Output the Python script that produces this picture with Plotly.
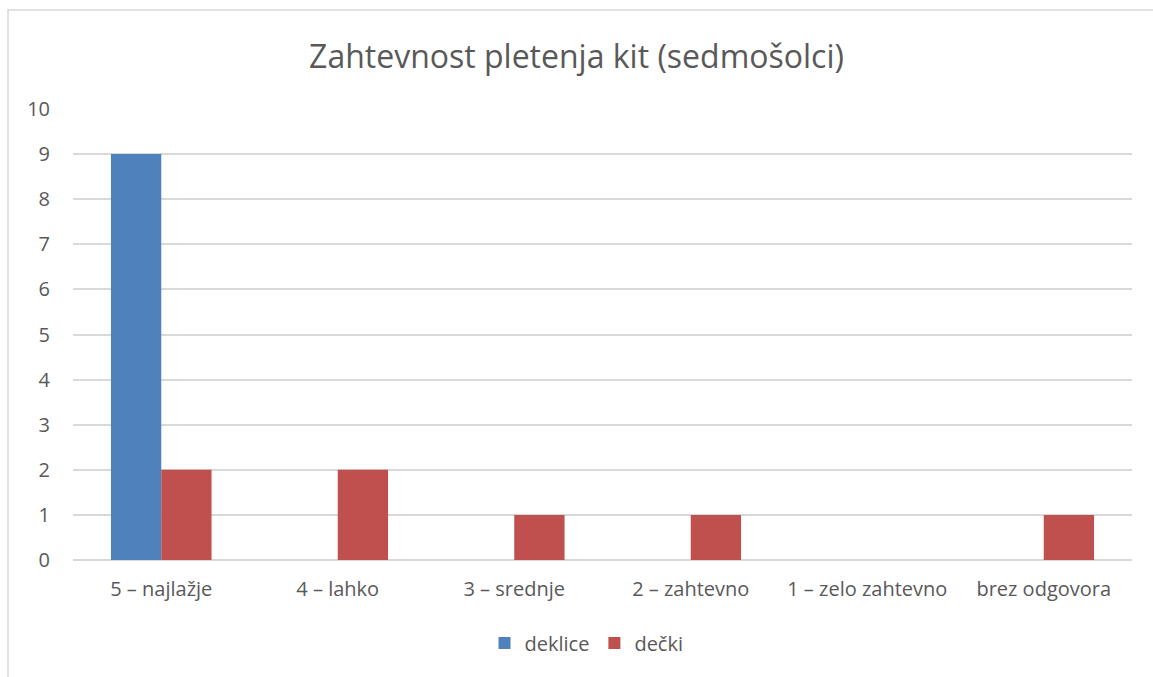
import plotly.graph_objects as go

categories = ["5 – najlažje", "4 – lahko", "3 – srednje", "2 – zahtevno", "1 – zelo zahtevno", "brez odgovora"]
deklice = [9, 0, 0, 0, 0, 0]
decki = [2, 2, 1, 1, 0, 1]
y_ticks = list(range(0, 11))

W, H = 1153, 677
L, R, T, B = 73, 21, 109, 117
pw, ph = W - L - R, H - T - B

def px(x):
    return (x - L) / pw

def py(y):
    return (H - B - y) / ph

fig = go.Figure()
fig.add_trace(go.Bar(name="deklice", x=categories, y=deklice, marker_color="#4f81bd",
                     marker_line_width=0))
fig.add_trace(go.Bar(name="dečki", x=categories, y=decki, marker_color="#c0504d",
                     marker_line_width=0))

fig.update_layout(
    width=W, height=H,
    margin=dict(l=L, r=R, t=T, b=B),
    paper_bgcolor="white", plot_bgcolor="white",
    font=dict(family="Open Sans, Liberation Sans, sans-serif", color="#595959", size=20),
    title=dict(text="Zahtevnost pletenja kit (sedmošolci)", x=0.5, xanchor="center",
               y=1 - 57 / H, yanchor="middle",
               font=dict(size=32, color="#595959")),
    barmode="group", bargap=0.43, bargroupgap=0,
    showlegend=True,
    legend=dict(orientation="h", x=0.5 - 16 / pw, xanchor="center", y=py(643), yanchor="middle",
                font=dict(size=20, color="#595959"), itemwidth=30, traceorder="normal"),
    xaxis=dict(showgrid=False, showline=False, ticks="", tickfont=dict(size=20),
               ticklabelstandoff=15),
    yaxis=dict(range=[0, 10], tickvals=y_ticks, showgrid=True, gridcolor="#d9d9d9",
               gridwidth=1.5, zeroline=True, zerolinecolor="#d9d9d9", zerolinewidth=1.5,
               showline=False, ticks="", tickfont=dict(size=20), ticklabelstandoff=22),
)

fig.add_shape(type="rect", xref="paper", yref="paper",
              x0=px(8), x1=px(1165), y0=py(690), y1=py(10),
              line=dict(color="#d9d9d9", width=1.5), fillcolor="rgba(0,0,0,0)", layer="below")

fig.write_html("out.html", config={"displayModeBar": False},
               post_script="document.body.style.margin='0';")
